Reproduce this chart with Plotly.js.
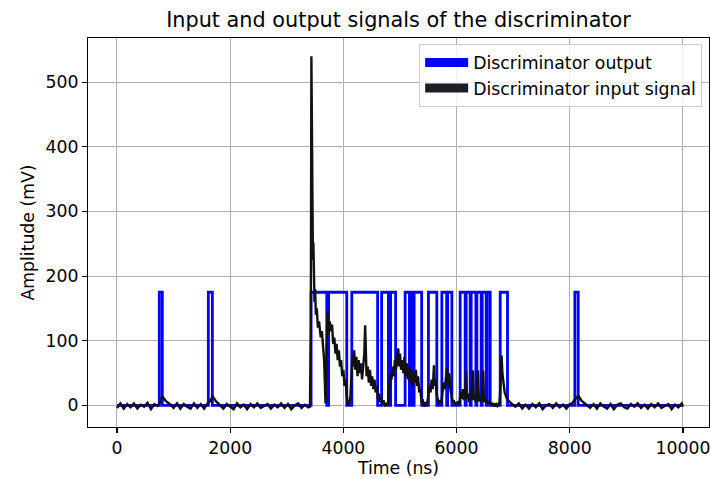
<!DOCTYPE html>
<html>
<head>
<meta charset="utf-8">
<script src="https://cdn.plot.ly/plotly-3.0.1.min.js"></script>
<style>html,body{margin:0;padding:0;background:#fff;}#chart{width:710px;height:479px;}</style>
</head>
<body>
<div id="chart"></div>
<script>
// Discriminator output: level changes (ns, mV), drawn as a step line
var outputTime = [0, 748, 801, 1614, 1685,
  3429, 3707, 3739, 4060, 4149, 4605, 4676, 4796, 4835, 4923,
  5091, 5167, 5188, 5227, 5250, 5383, 5503, 5651, 5740, 5825, 5842, 5917,
  6063, 6152, 6170, 6240, 6258, 6341, 6359, 6435, 6453, 6523, 6541, 6594,
  6771, 6900, 8090, 8149, 10000];
var outputMv = [0, 175, 0, 175, 0,
  175, 0, 175, 0, 175, 0, 175, 0, 175, 0,
  175, 0, 175, 0, 175, 0, 175, 0, 175, 0, 175, 0,
  175, 0, 175, 0, 175, 0, 175, 0, 175, 0, 175, 0,
  175, 0, 175, 0, 0];

// Discriminator input signal (ns, mV)
var inputTime = [
  0, 60, 120, 180, 240, 300, 360, 420, 480, 540, 600, 660, 720,
  760, 800, 830, 860, 900, 950,
  1000, 1060, 1120, 1180, 1240, 1300, 1360, 1420, 1480, 1540, 1600,
  1640, 1690, 1720, 1750, 1790, 1830,
  1880, 1940, 2000, 2060, 2120, 2180, 2240, 2300, 2360, 2420, 2480, 2540, 2600,
  2660, 2720, 2780, 2840, 2900, 2960, 3020, 3080, 3140, 3200, 3260, 3320, 3380,
  3410, 3425, 3435, 3450, 3462, 3470, 3478, 3490, 3500, 3515, 3530, 3550, 3570,
  3600, 3620, 3640, 3660, 3685, 3705, 3720, 3740, 3760, 3780, 3800, 3820, 3840,
  3860, 3880, 3900, 3920, 3940, 3960, 3980, 4000, 4020, 4040, 4060, 4080, 4100,
  4120, 4140, 4160, 4175, 4190, 4210, 4230, 4250, 4270, 4290, 4310, 4330, 4350,
  4370, 4385, 4395, 4410, 4430, 4450, 4470, 4490, 4510, 4530, 4550, 4570, 4590,
  4610, 4630, 4650, 4670, 4690, 4710, 4730, 4750, 4770, 4790, 4810, 4830, 4850,
  4870, 4890, 4910, 4930, 4950, 4970, 4985, 5000, 5020, 5040, 5060, 5080, 5100,
  5120, 5140, 5160, 5180, 5200, 5220, 5240, 5260, 5280, 5300, 5320, 5340, 5360,
  5380, 5400, 5420, 5440, 5460, 5480, 5500, 5520, 5540, 5560, 5580, 5600, 5615,
  5630, 5650, 5670, 5690, 5710, 5730, 5750, 5770, 5790, 5810, 5830, 5850, 5870,
  5890, 5910, 5930, 5950, 5970, 5990, 6010, 6030, 6050, 6070, 6090, 6110, 6130,
  6150, 6170, 6185, 6200, 6220, 6240, 6260, 6290, 6305, 6320, 6340, 6360, 6380,
  6395, 6410, 6430, 6450, 6470, 6485, 6500, 6520, 6540, 6560, 6580, 6600, 6620,
  6640, 6660, 6680, 6700, 6720, 6740, 6760, 6780, 6795, 6810, 6830, 6850, 6870,
  6890, 6920, 6950, 6980,
  7040, 7100, 7160, 7220, 7280, 7340, 7400, 7460, 7520, 7580, 7640, 7700, 7760,
  7820, 7880, 7940, 8000, 8040,
  8080, 8150, 8180, 8210, 8250, 8300,
  8360, 8420, 8480, 8540, 8600, 8660, 8720, 8780, 8840, 8900, 8960, 9020, 9080,
  9140, 9200, 9260, 9320, 9380, 9440, 9500, 9560, 9620, 9680, 9740, 9800, 9860,
  9920, 9980, 10000];
var inputMv = [
  -4, 3, -5, 2, -3, 3, -5, 1, -2, 4, -6, 2, -1,
  4, 14, 10, 7, 4, 1,
  -4, 3, -5, 2, -2, -5, 3, -4, 2, -5, 3,
  6, 14, 10, 6, 3, 0,
  -5, 2, -2, -6, 3, -3, 1, -6, 2, -3, 3, -4, -1,
  2, -5, 1, -3, 3, -4, 2, -6, 0, 3, -4, 1, -3,
  -2, 120, 540, 260, 225, 252, 215, 160, 180, 140, 150, 120, 130,
  105, 115, 95, 70, 3, 120, 145, 110, 130, 115, 125, 95, 105,
  80, 95, 70, 85, 60, 70, 45, 55, 30, 40, 15, 3, 2,
  8, 40, 75, 60, 85, 55, 75, 45, 70, 50, 65, 40, 60,
  80, 124, 70, 45, 60, 35, 55, 30, 45, 25, 40, 20, 30,
  10, 18, 5, 12, 2, 8, -2, 4, -1, 5, 35, 50, 40,
  60, 45, 70, 55, 75, 88, 60, 80, 55, 70, 50, 75, 45,
  65, 40, 60, 35, 55, 30, 50, 35, 55, 30, 45, 20, 25,
  5, 10, -2, 5, -1, 3, 15, 30, 20, 40, 25, 62, 30,
  40, 15, 8, 2, 8, 3, 20, 35, 25, 45, 57, 30, 50,
  25, 10, 5, 8, 0, 5, 2, 6, 3, 20, 10, 25, 8,
  15, 54, 10, 18, 5, 12, 8, 54, 8, 15, 5, 12, 54,
  6, 14, 5, 10, 54, 5, 12, 4, 8, 2, 6, 1, 4,
  -1, 3, 0, 2, -1, 3, 5, 40, 77, 50, 30, 20, 15,
  10, 7, 4, 2,
  -2, 3, -5, 1, -5, 2, -3, 3, -6, 0, 2, -4, 3,
  -3, 1, -5, 2, 3,
  8, 15, 11, 7, 4, 1,
  -4, 2, -5, 3, -2, -5, 2, -6, 1, 3, -3, -5, 2,
  -2, 3, -4, 1, -5, 2, -3, 3, -4, -1, 2, -6, 1,
  -3, 3, -2];

var xTickVals = [0, 2000, 4000, 6000, 8000, 10000];
var xTickText = ['0', '2000', '4000', '6000', '8000', '10000'];
var yTickVals = [0, 100, 200, 300, 400, 500];

var legendNames = ['Discriminator output', 'Discriminator input signal'];
var blue = '#0000ff';
var dark = '#111111';

var font = 'DejaVu Sans, Liberation Sans, sans-serif';
var fs = 17.3;

var traces = [
  {x: outputTime, y: outputMv, mode: 'lines', line: {color: blue, width: 2.8, shape: 'hv'},
   showlegend: false, hoverinfo: 'skip'},
  {x: inputTime, y: inputMv, mode: 'lines', line: {color: dark, width: 2.4},
   showlegend: false, hoverinfo: 'skip'},
  {x: [null], y: [null], mode: 'lines', name: legendNames[0], legendgroup: 'a',
   line: {color: blue, width: 9}},
  {x: [null], y: [null], mode: 'lines', name: legendNames[1], legendgroup: 'b',
   line: {color: '#1c1f24', width: 9}}
];

var axisCommon = {
  showline: true, mirror: true, linecolor: '#000', linewidth: 1.1,
  ticks: 'outside', ticklen: 5, tickwidth: 1.1, tickcolor: '#000',
  showgrid: true, gridcolor: '#b0b0b0', gridwidth: 1,
  zeroline: false, automargin: false, ticklabeloverflow: 'allow',
  tickfont: {family: font, size: fs, color: '#000'}
};

var layout = {
  width: 710, height: 479,
  paper_bgcolor: '#fff', plot_bgcolor: '#fff',
  margin: {l: 88, r: 1, t: 38, b: 52, pad: 0},
  title: {text: 'Input and output signals of the discriminator',
    font: {family: font, size: 20.8, color: '#000'},
    x: 0.5, xref: 'paper', y: 0.958, yref: 'container', yanchor: 'middle'},
  xaxis: Object.assign({}, axisCommon, {
    range: [-512, 10460], tickvals: xTickVals, ticktext: xTickText,
    title: {text: 'Time (ns)', font: {family: font, size: fs, color: '#000'}, standoff: 4}
  }),
  yaxis: Object.assign({}, axisCommon, {
    range: [-33.5, 568.3], tickvals: yTickVals,
    title: {text: 'Amplitude (mV)', font: {family: font, size: fs, color: '#000'}, standoff: 6}
  }),
  legend: {x: 0.989, xanchor: 'right', y: 0.985, yanchor: 'top',
    bgcolor: 'rgba(255,255,255,0.8)', bordercolor: '#cccccc', borderwidth: 1,
    itemwidth: 43,
    font: {family: font, size: fs, color: '#000'}, tracegroupgap: 0},
  showlegend: true
};

Plotly.newPlot('chart', traces, layout, {staticPlot: true, displayModeBar: false});
</script>
</body>
</html>
